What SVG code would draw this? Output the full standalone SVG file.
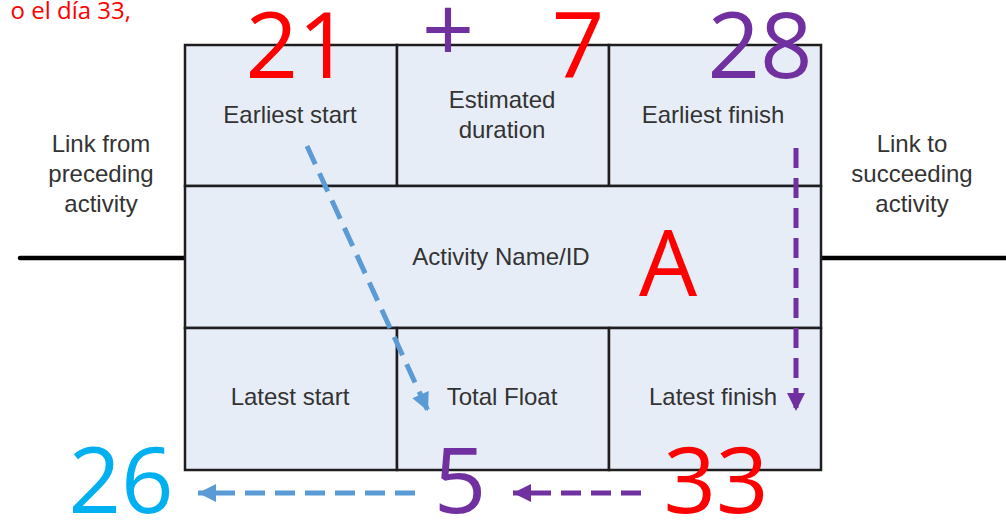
<svg xmlns="http://www.w3.org/2000/svg" width="1006" height="520" viewBox="0 0 1006 520">
<style>
.cell{fill:#E7EDF7;stroke:#1e1e1e;stroke-width:2.5}
.lbl{font-family:"Liberation Sans",Arial,sans-serif;font-size:24px;fill:#333;text-anchor:middle}
.big{font-family:"Open Sans","Liberation Sans",sans-serif;font-size:92px;text-anchor:middle}
.red{fill:#FF0000}.pur{fill:#7030A0}.cyan{fill:#00B0F0}
.link{stroke:#000;stroke-width:4.5;stroke-linecap:round}
.db{stroke:#5B9BD5;stroke-width:5;fill:none;stroke-dasharray:20 10}
.dp{stroke:#7030A0;stroke-width:5;fill:none;stroke-dasharray:20 10}
</style>
<defs>
<marker id="ab" viewBox="0 0 10 10" refX="10" refY="5" markerUnits="userSpaceOnUse" markerWidth="20" markerHeight="18" orient="auto"><path d="M0,0 L10,5 L0,10 z" fill="#5B9BD5"/></marker>
<marker id="ap" viewBox="0 0 10 10" refX="10" refY="5" markerUnits="userSpaceOnUse" markerWidth="20" markerHeight="18" orient="auto"><path d="M0,0 L10,5 L0,10 z" fill="#7030A0"/></marker>
</defs>
<rect width="1006" height="520" fill="#fff"/>
<text x="131" y="19" font-family="'Open Sans','Liberation Sans',sans-serif" font-size="24" fill="#FF0000" text-anchor="end">o el día 33,</text>
<g id="links">
<line class="link" x1="20" y1="258" x2="186" y2="258"/>
<line class="link" x1="820" y1="258" x2="1006" y2="258"/>
<text class="lbl" x="101" y="152">Link from</text>
<text class="lbl" x="101" y="182">preceding</text>
<text class="lbl" x="101" y="212">activity</text>
<text class="lbl" x="912" y="152">Link to</text>
<text class="lbl" x="912" y="182">succeeding</text>
<text class="lbl" x="912" y="212">activity</text>
</g>
<g id="node-A">
<rect class="cell" x="185" y="45" width="212" height="141"/>
<rect class="cell" x="397" y="45" width="212" height="141"/>
<rect class="cell" x="609" y="45" width="212" height="141"/>
<rect class="cell" x="185" y="186" width="636" height="142"/>
<rect class="cell" x="185" y="328" width="212" height="142"/>
<rect class="cell" x="397" y="328" width="212" height="142"/>
<rect class="cell" x="609" y="328" width="212" height="142"/>
<text class="lbl" x="290" y="123">Earliest start</text>
<text class="lbl" x="502" y="108">Estimated</text>
<text class="lbl" x="502" y="138">duration</text>
<text class="lbl" x="713" y="123">Earliest finish</text>
<text class="lbl" x="501" y="265">Activity Name/ID</text>
<text class="lbl" x="290" y="405">Latest start</text>
<text class="lbl" x="502" y="405">Total Float</text>
<text class="lbl" x="713" y="405">Latest finish</text>
</g>
<g id="connectors">
<line class="db" x1="307" y1="146" x2="428" y2="411" marker-end="url(#ab)"/>
<line class="dp" x1="796" y1="148" x2="796" y2="411" marker-end="url(#ap)"/>
<line class="db" x1="415" y1="493" x2="198" y2="493" marker-end="url(#ab)"/>
<line class="dp" x1="641" y1="493" x2="513" y2="493" marker-end="url(#ap)"/>
</g>
<g id="numbers">
<text class="big red" x="298" y="78">21</text>
<text class="big pur" x="448" y="62" font-size="80">+</text>
<text class="big red" x="578" y="78">7</text>
<text class="big pur" x="760" y="78">28</text>
<text class="big red" x="668" y="296">A</text>
<text class="big cyan" x="121" y="513">26</text>
<text class="big pur" x="460" y="513">5</text>
<text class="big red" x="716" y="513">33</text>
</g>
</svg>
